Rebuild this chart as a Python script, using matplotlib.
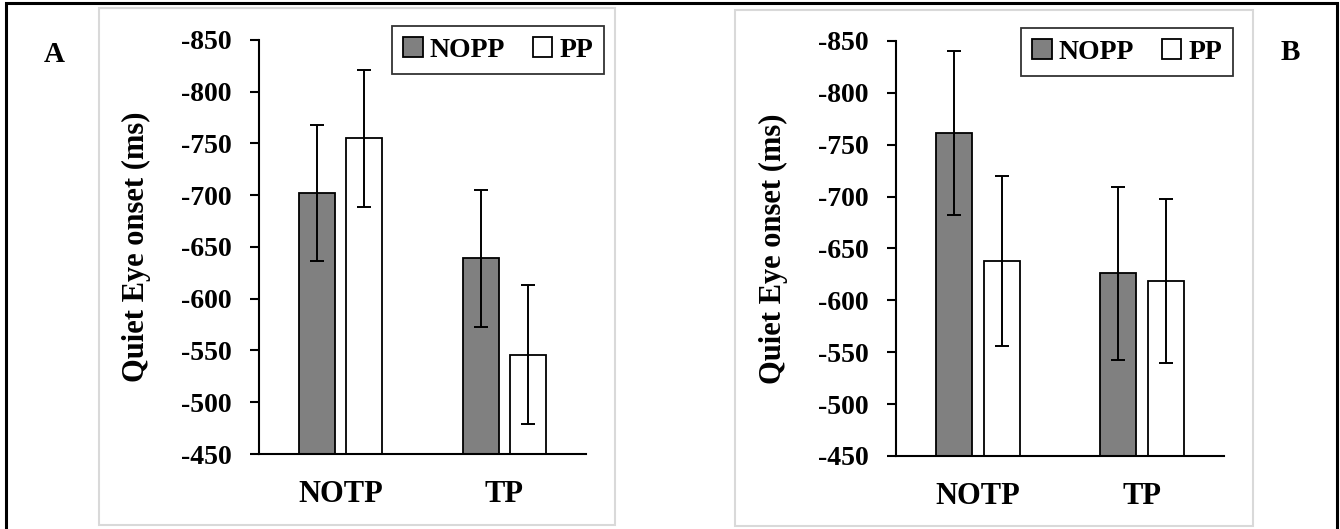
import matplotlib
matplotlib.use("Agg")
import matplotlib.pyplot as plt
from matplotlib.patches import Rectangle
import numpy as np

plt.rcParams['font.family'] = ['Liberation Serif', 'DejaVu Serif']
plt.rcParams['font.weight'] = 'bold'

categories = ['NOTP', 'TP']
series = ['NOPP', 'PP']
colors = ['#808080', '#ffffff']

# panel A
a_nopp = [-702, -639]
a_pp = [-755, -546]
a_nopp_err = [66, 66]
a_pp_err = [66, 67]

# panel B
b_nopp = [-761, -626]
b_pp = [-638, -619]
b_nopp_err = [79, 83]
b_pp_err = [82, 79]

yticks = [-850, -800, -750, -700, -650, -600, -550, -500, -450]
base = -450

W, H = 1340, 529
fig = plt.figure(figsize=(W / 100, H / 100), dpi=100)

# outer black frame and light grey panel boxes (pixel coords)
def px_rect(x0, y0, x1, y1, **kw):
    fig.patches.append(Rectangle((x0 / W, 1 - y1 / H), (x1 - x0) / W, (y1 - y0) / H,
                                 transform=fig.transFigure, fill=False, **kw))

px_rect(6, 3, 1337, 532, edgecolor='black', linewidth=2.2)
px_rect(99, 8, 615, 525, edgecolor='#d9d9d9', linewidth=1.5)
px_rect(735, 10, 1253, 526, edgecolor='#d9d9d9', linewidth=1.5)


def panel(rect, nopp, pp, nopp_err, pp_err, legend_anchor, letter, letter_xy):
    ax = fig.add_axes(rect)
    x = np.arange(len(categories))
    w = 0.22
    off = 0.144
    for vals, errs, col, name, dx in [(nopp, nopp_err, colors[0], series[0], -off),
                                       (pp, pp_err, colors[1], series[1], off)]:
        ax.bar(x + dx, [v - base for v in vals], w, bottom=base, color=col,
               edgecolor='black', linewidth=1.3, label=name, zorder=2)
        ax.errorbar(x + dx, vals, yerr=errs, fmt='none', ecolor='black',
                    elinewidth=1.4, capsize=4.7, capthick=1.4, zorder=3)
    ax.set_xlim(-0.5, 1.5)
    ax.set_ylim(-450, -850)
    ax.set_yticks(yticks)
    ax.set_yticklabels([str(t) for t in yticks], fontsize=20, fontweight='bold')
    ax.set_xticks(x)
    ax.set_xticklabels(categories, fontsize=22, fontweight='bold')
    ax.tick_params(axis='x', length=0, pad=19)
    ax.tick_params(axis='y', length=6.5, width=1.5, direction='out', pad=13)
    for s in ['top', 'right']:
        ax.spines[s].set_visible(False)
    for s in ['left', 'bottom']:
        ax.spines[s].set_linewidth(1.5)
    ax.set_ylabel('Quiet Eye onset (ms)', fontsize=22, fontweight='bold')
    ax.yaxis.set_label_coords(-0.33, 0.5)
    leg = ax.legend(loc='upper right', bbox_to_anchor=legend_anchor,
                    bbox_transform=fig.transFigure, ncol=2, frameon=True,
                    fancybox=False, borderaxespad=0, handlelength=0.7,
                    handleheight=0.7, handletextpad=0.25, columnspacing=1.0,
                    borderpad=0.4, prop={'size': 20, 'weight': 'bold'})
    leg.get_frame().set_edgecolor('black')
    leg.get_frame().set_linewidth(1.3)
    fig.text(letter_xy[0] / W, 1 - letter_xy[1] / H, letter, fontsize=21,
             fontweight='bold', ha='center', va='center')
    return ax


panel([259 / W, 1 - 454 / H, 327 / W, 414 / H], a_nopp, a_pp, a_nopp_err, a_pp_err,
      (604 / W, 1 - 26 / H), 'A', (54, 54))
panel([896 / W, 1 - 456 / H, 328 / W, 415 / H], b_nopp, b_pp, b_nopp_err, b_pp_err,
      (1233 / W, 1 - 28 / H), 'B', (1290, 52))

fig.savefig('out.png', dpi=100, facecolor='white')
